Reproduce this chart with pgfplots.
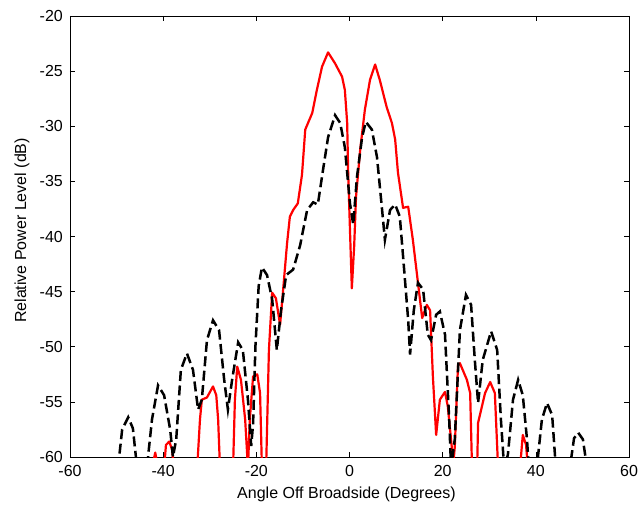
\documentclass[border=0pt]{standalone}
\usepackage{fontspec}
\setmainfont{Liberation Sans}
\usepackage{pgfplots}
\pgfplotsset{compat=1.18}
\begin{document}
\begin{tikzpicture}
\begin{axis}[
  at={(0,0)}, anchor=south west,
  scale only axis, width=559pt, height=441pt,
  xmin=-60, xmax=60, ymin=-60, ymax=-20,
  xtick={-60,-40,...,60}, ytick={-60,-55,...,-20},
  tick align=inside, major tick length=5pt,
  tick style={black, line width=0.6pt},
  axis line style={black, line width=0.8pt},
  /pgf/number format/assume math mode=true,
  tick label style={font=\fontsize{16}{19}\selectfont, inner sep=0pt},
  xticklabel style={anchor=north, yshift=-8pt},
  yticklabel style={anchor=east, xshift=-7pt},
  label style={font=\fontsize{16}{19}\selectfont},
  xlabel={Angle Off Broadside (Degrees)},
  ylabel={Relative Power Level (dB)},
  xlabel style={at={(axis description cs:0.4946,-0.093)}, anchor=base, inner sep=0pt},
  ylabel style={at={(axis description cs:-0.0859,0.5136)}, anchor=center, inner sep=0pt},
  clip=true,
]
\addplot[red, line width=2.2pt, line join=round] coordinates {
(-42.4,-61) (-41.7,-59.6) (-41.1,-61) (-39.8,-61) (-39.4,-58.9) (-38.7,-58.6) (-38.1,-59.3) (-37.7,-61)
(-32.7,-61) (-32.1,-56.6) (-31.7,-54.8) (-30.6,-54.6) (-29.3,-53.6) (-28.6,-54.4) (-28.2,-56.6) (-27.8,-61)
(-25.0,-61) (-24.6,-54.8) (-24.1,-51.8) (-23.3,-53.0) (-22.4,-56.6) (-21.8,-61)
(-21.4,-56.6) (-20.7,-52.7) (-19.8,-52.5) (-19.2,-54.2) (-18.8,-61) (-17.9,-61)
(-17.3,-50.3) (-16.6,-45.1) (-15.8,-45.6) (-14.9,-48.0) (-14.3,-45.1) (-13.4,-40.6) (-12.8,-38.2)
(-12.1,-37.6) (-11.1,-37.0) (-10.2,-34.4) (-9.5,-30.3) (-8.0,-28.8) (-7.0,-26.7) (-5.9,-24.6)
(-4.6,-23.3) (-3.1,-24.3) (-1.6,-25.5) (-1.0,-26.7) (-0.5,-29.7) (-0.3,-34.0) (0.1,-39.4)
(0.5,-44.7) (1.0,-40.9) (1.4,-36.4) (2.3,-32.1) (3.3,-28.5) (4.4,-25.8) (5.5,-24.4) (6.5,-25.8)
(8.0,-28.3) (9.1,-29.7) (9.8,-31.2) (10.4,-34.2) (11.5,-37.4) (12.6,-37.3) (13.6,-40.3)
(14.7,-44.2) (15.6,-47.4) (16.6,-46.2) (17.3,-46.7) (17.9,-52.7) (18.6,-58.0) (19.4,-54.8)
(20.5,-54.1) (21.1,-55.4) (22.0,-59.3) (22.2,-61) (22.6,-59.1) (23.3,-51.6) (23.7,-51.5)
(25.2,-53.0) (25.9,-54.2) (26.3,-61) (27.4,-61) (27.6,-56.9) (29.1,-54.2) (30.2,-53.2)
(31.2,-54.2) (31.9,-61) (36.6,-61) (37.2,-58.0) (37.9,-58.9) (38.3,-61)
};
\addplot[black, line width=2.5pt, dash pattern=on 10pt off 4.5pt] coordinates {
(-49.7,-61) (-48.8,-57.5) (-47.5,-56.4) (-46.5,-57.4) (-45.6,-61)
(-43.5,-61) (-42.4,-56.6) (-41.1,-53.5) (-39.8,-54.4) (-38.5,-57.5) (-37.9,-60) (-37.2,-58.4)
(-36.2,-52.1) (-34.9,-50.6) (-33.6,-52.1) (-32.5,-55.7) (-31.7,-54.8) (-30.6,-49.4) (-29.3,-47.6)
(-28.0,-48.5) (-26.9,-53.0) (-26.1,-55.7) (-25.2,-53.0) (-23.9,-49.6) (-22.9,-50.3) (-21.8,-54.8)
(-21.1,-59) (-20.7,-57) (-20.2,-50) (-19.5,-44.5) (-18.8,-42.8) (-17.7,-43.5) (-16.6,-45.7)
(-15.6,-50.3) (-14.7,-46.7) (-13.6,-43.5) (-12.1,-43.0) (-10.6,-40.8) (-9.1,-37.6) (-7.8,-36.9)
(-6.8,-37.1) (-5.7,-34.0) (-4.6,-31.0) (-3.1,-29.0) (-2.0,-29.7) (-1.0,-31.9) (0.1,-37.0)
(0.8,-38.9) (1.6,-34.6) (2.7,-31.0) (3.5,-29.6) (4.8,-30.3) (5.9,-32.8) (7.0,-37.6) (7.6,-40.3)
(8.7,-37.6) (9.8,-37.1) (10.8,-38.2) (11.5,-41.8) (12.6,-47.6) (13.0,-50.7) (13.8,-46.7)
(14.7,-44.2) (15.8,-44.8) (16.8,-48.9) (17.5,-49.4) (18.6,-47.1) (19.4,-46.8) (20.5,-48.9)
(21.4,-56.6) (21.8,-61) (22.6,-58.4) (23.7,-48.5) (25.0,-45.3) (26.1,-46.2) (26.9,-51.2)
(27.6,-55.1) (28.6,-51.2) (30.4,-48.6) (31.7,-50.3) (32.5,-56.6) (33.2,-61) (34.0,-59.8)
(35.1,-54.8) (36.2,-53.0) (37.2,-54.4) (38.1,-58.4) (38.5,-61)
(40.2,-61) (41.3,-56.6) (42.4,-55.1) (43.5,-56.2) (44.3,-61) (47.3,-61) (48.2,-58.3)
(49.1,-57.8) (50.1,-58.4) (51.0,-61)
};
\end{axis}
\pgfresetboundingbox
\path[use as bounding box] (-70pt,-51pt) rectangle (574pt,457pt);
\end{tikzpicture}
\end{document}
